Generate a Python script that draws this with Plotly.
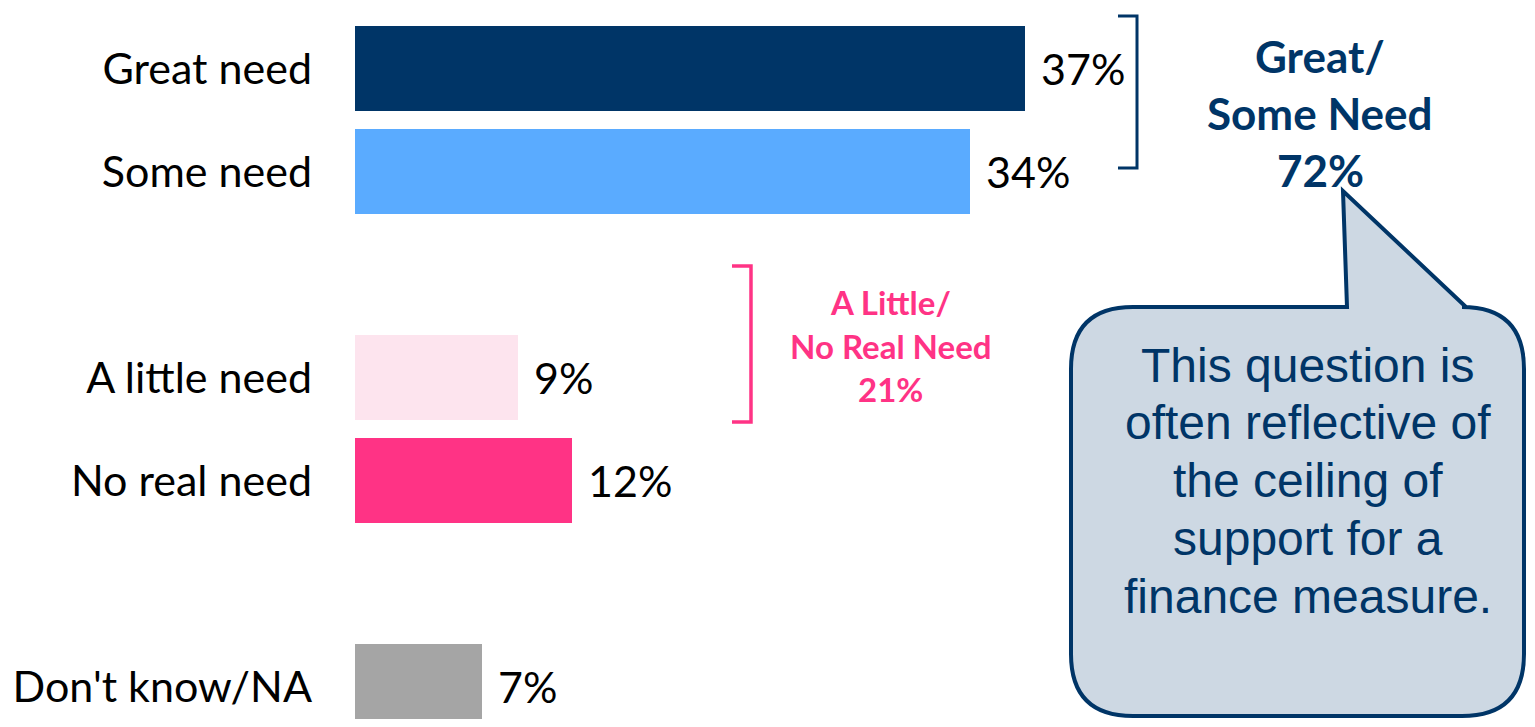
import plotly.graph_objects as go

# ---- data ----
groups = [
    ["Great need", "Some need"],
    ["A little need", "No real need"],
    ["Don't know/NA"],
]
categories = ["Great need", "Some need", "A little need", "No real need", "Don't know/NA"]
values = [37, 34, 9, 12, 7]
bar_colors = ["#003567", "#5aabff", "#fde4ee", "#ff3385", "#a5a5a5"]

summary_top = ["Great/", "Some Need", "72%"]
summary_mid = ["A Little/", "No Real Need", "21%"]
callout_lines = ["This question is", "often reflective of", "the ceiling of",
                 "support for a", "finance measure."]

# ---- layout helpers ----
OFF = 8  # page body margin
W, H = 1535 - 2 * OFF, 727 - 2 * OFF
LM = 355 - OFF
PW = W - LM
NAVY = "#003567"
PINK = "#ff3385"

# slot positions: one empty slot between groups
slots = []
pos = 0
for g in groups:
    for _ in g:
        slots.append(pos)
        pos += 1
    pos += 1

def px(X):
    return (X - OFF - LM) / PW

def py(Y):
    return 1 - (Y - OFF) / H

fig = go.Figure()
fig.add_trace(go.Bar(
    x=values, y=slots, orientation="h",
    marker=dict(color=bar_colors, line=dict(width=0)),
    width=0.825, hoverinfo="skip",
))

annotations = []
for v, s in zip(values, slots):
    annotations.append(dict(
        x=v, y=s, xref="x", yref="y", text=f"{v}%", showarrow=False,
        xanchor="left", yanchor="middle", xshift=14,
        font=dict(family="Lato", size=43, color="#000000"),
    ))

for t, Y in zip(summary_top, [56, 113, 170]):
    annotations.append(dict(
        x=px(1320), y=py(Y), xref="paper", yref="paper", text=f"<b>{t}</b>",
        showarrow=False, xanchor="center", yanchor="middle",
        font=dict(family="Lato", size=44, color=NAVY),
    ))

for t, Y in zip(summary_mid, [302, 346, 389]):
    annotations.append(dict(
        x=px(890), y=py(Y), xref="paper", yref="paper", text=f"<b>{t}</b>",
        showarrow=False, xanchor="center", yanchor="middle",
        font=dict(family="Lato", size=33, color=PINK),
    ))

for i, t in enumerate(callout_lines):
    Y = 365 + 57.75 * i
    annotations.append(dict(
        x=px(1308), y=py(Y), xref="paper", yref="paper", text=t,
        showarrow=False, xanchor="center", yanchor="middle",
        font=dict(family="Liberation Sans", size=48, color=NAVY),
    ))

def P(X, Y):
    return f"{px(X):.5f},{py(Y):.5f}"

# callout bubble
Lx, Rx, T, B, r = 1071, 1524, 307, 716, 62
bubble = (
    f"M {P(Lx + r, T)} L {P(1347, T)} L {P(1343, 191)} L {P(1466, T)} "
    f"L {P(Rx - r, T)} Q {P(Rx, T)} {P(Rx, T + r)} "
    f"L {P(Rx, B - r)} Q {P(Rx, B)} {P(Rx - r, B)} "
    f"L {P(Lx + r, B)} Q {P(Lx, B)} {P(Lx, B - r)} "
    f"L {P(Lx, T + r)} Q {P(Lx, T)} {P(Lx + r, T)} Z"
)
shapes = [
    dict(type="path", xref="paper", yref="paper", path=bubble,
         fillcolor="#cdd8e3", line=dict(color=NAVY, width=4), layer="below"),
    dict(type="path", xref="paper", yref="paper",
         path=f"M {P(1118, 16)} L {P(1137, 16)} L {P(1137, 168)} L {P(1118, 168)}",
         line=dict(color=NAVY, width=3)),
    dict(type="path", xref="paper", yref="paper",
         path=f"M {P(732, 266)} L {P(751, 266)} L {P(751, 422)} L {P(732, 422)}",
         line=dict(color=PINK, width=3.5)),
]

fig.update_layout(
    width=W, height=H,
    margin=dict(l=LM, r=0, t=0, b=0, pad=0),
    paper_bgcolor="white", plot_bgcolor="rgba(0,0,0,0)",
    showlegend=False, bargap=0,
    xaxis=dict(range=[0, PW / 18.1], visible=False, fixedrange=True),
    yaxis=dict(range=[(OFF + H - 68.5) / 103, (OFF - 68.5) / 103], tickmode="array",
               tickvals=slots, ticktext=categories, showgrid=False,
               zeroline=False, showline=False, ticks="",
               ticklabelstandoff=42, automargin=False,
               tickfont=dict(family="Lato", size=43, color="#000000"),
               fixedrange=True),
    annotations=annotations, shapes=shapes,
)

fig.write_html("out.html", config={"displayModeBar": False})
